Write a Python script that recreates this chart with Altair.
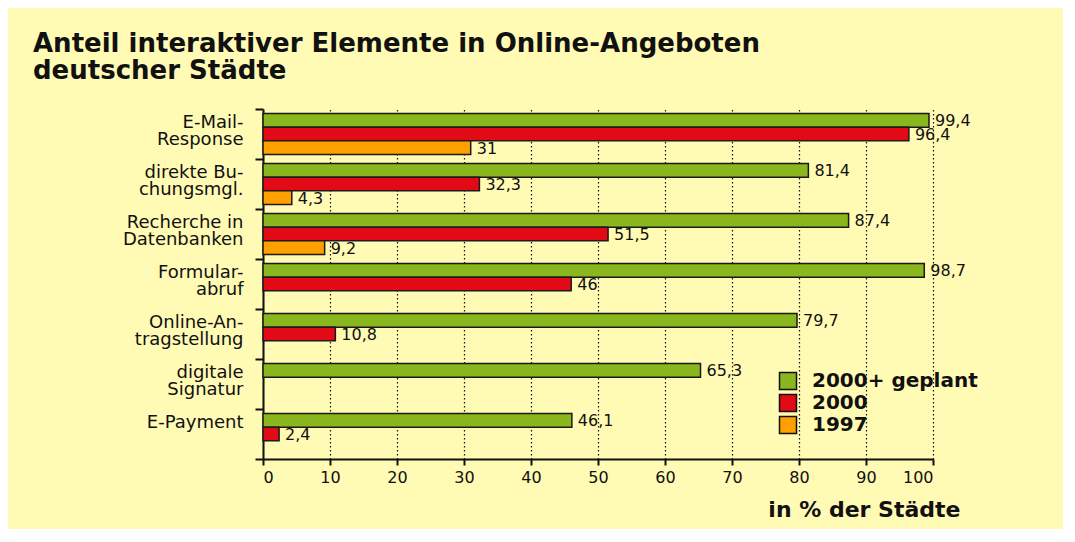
import altair as alt
import pandas as pd

categories = [
    "E-Mail-\nResponse",
    "direkte Bu-\nchungsmgl.",
    "Recherche in\nDatenbanken",
    "Formular-\nabruf",
    "Online-An-\ntragstellung",
    "digitale\nSignatur",
    "E-Payment",
]
series_names = ["2000+ geplant", "2000", "1997"]
geplant = [99.4, 81.4, 87.4, 98.7, 79.7, 65.3, 46.1]
v2000 = [96.4, 32.3, 51.5, 46, 10.8, None, 2.4]
v1997 = [31, 4.3, 9.2, None, None, None, None]
colors = ["#8AB61E", "#E20A17", "#FF9F00"]

rows = []
for name, vals in zip(series_names, [geplant, v2000, v1997]):
    for cat, v in zip(categories, vals):
        if v is not None:
            rows.append({"kategorie": cat, "serie": name, "wert": v})
df = pd.DataFrame(rows)

FONT = "DejaVu Sans"

y_enc = alt.Y(
    "kategorie:N",
    sort=categories,
    scale=alt.Scale(paddingInner=0, paddingOuter=0),
    axis=alt.Axis(
        title=None,
        tickBand="extent",
        labelExpr="split(datum.label, '\\n')",
        labelFont=FONT,
        labelFontSize=18,
        labelLineHeight=17,
        labelColor="#111",
        labelPadding=12,
        labelAlign="right",
        labelBaseline="middle",
        labelOffset=-12,
        tickSize=8,
        tickColor="#111",
        tickWidth=2,
        domainColor="#111",
        domainWidth=2,
        grid=False,
    ),
)
yoff = alt.YOffset(
    "serie:N",
    sort=series_names,
    scale=alt.Scale(domain=series_names, paddingInner=0, paddingOuter=0.32),
)
x_enc = alt.X(
    "wert:Q",
    scale=alt.Scale(domain=[0, 100], nice=False),
    axis=alt.Axis(
        values=list(range(0, 101, 10)),
        title="in % der Städte",
        titleFont=FONT,
        titleFontSize=22,
        titleFontWeight="bold",
        titleColor="#111",
        titleX=697,
        titleY=57,
        titleAlign="right",
        titleBaseline="alphabetic",
        labelFont=FONT,
        labelFontSize=16,
        labelColor="#111",
        labelPadding=4,
        tickSize=6,
        tickColor="#111",
        tickWidth=2,
        domainColor="#111",
        domainWidth=2,
        grid=True,
        gridColor="#111",
        gridDash=[1.5, 2.5],
        gridWidth=1.2,
        gridOpacity=1,
    ),
)

bars = alt.Chart(df).mark_bar(stroke="#1a1a1a", strokeWidth=1.5).encode(
    x=x_enc,
    y=y_enc,
    yOffset=yoff,
    color=alt.Color(
        "serie:N",
        scale=alt.Scale(domain=series_names, range=colors),
        legend=alt.Legend(
            title=None,
            orient="none",
            legendX=515,
            legendY=262,
            symbolType="square",
            symbolSize=289,
            symbolStrokeColor="#111",
            symbolStrokeWidth=1.5,
            symbolOpacity=1,
            labelFont=FONT,
            labelFontSize=20,
            labelFontWeight="bold",
            labelColor="#111",
            labelOffset=14,
            labelLimit=400,
            rowPadding=-3,
        ),
    ),
)

labels = alt.Chart(df).transform_calculate(
    txt="replace(toString(datum.wert), '.', ',')"
).mark_text(
    align="left", baseline="middle", dx=6, dy=1, font=FONT, fontSize=16, color="#111"
).encode(
    x=alt.X("wert:Q"),
    y=alt.Y("kategorie:N", sort=categories),
    yOffset=alt.YOffset("serie:N", sort=series_names),
    text="txt:N",
)

chart = (
    alt.layer(bars, labels)
    .properties(
        width=670,
        height=350,
        background="#FFFAB4",
        autosize=alt.AutoSizeParams(type="none"),
        padding={"left": 255, "top": 101, "right": 130, "bottom": 70},
        title=alt.TitleParams(
            text=["Anteil interaktiver Elemente in Online-Angeboten", "deutscher Städte"],
            anchor="start",
            frame="group",
            dx=-230,
            offset=16,
            font=FONT,
            fontSize=26,
            fontWeight="bold",
            lineHeight=27,
            color="#111",
        ),
    )
    .configure_view(strokeWidth=0)
)

chart.save("out.html", embed_options={"renderer": "svg", "actions": False})
